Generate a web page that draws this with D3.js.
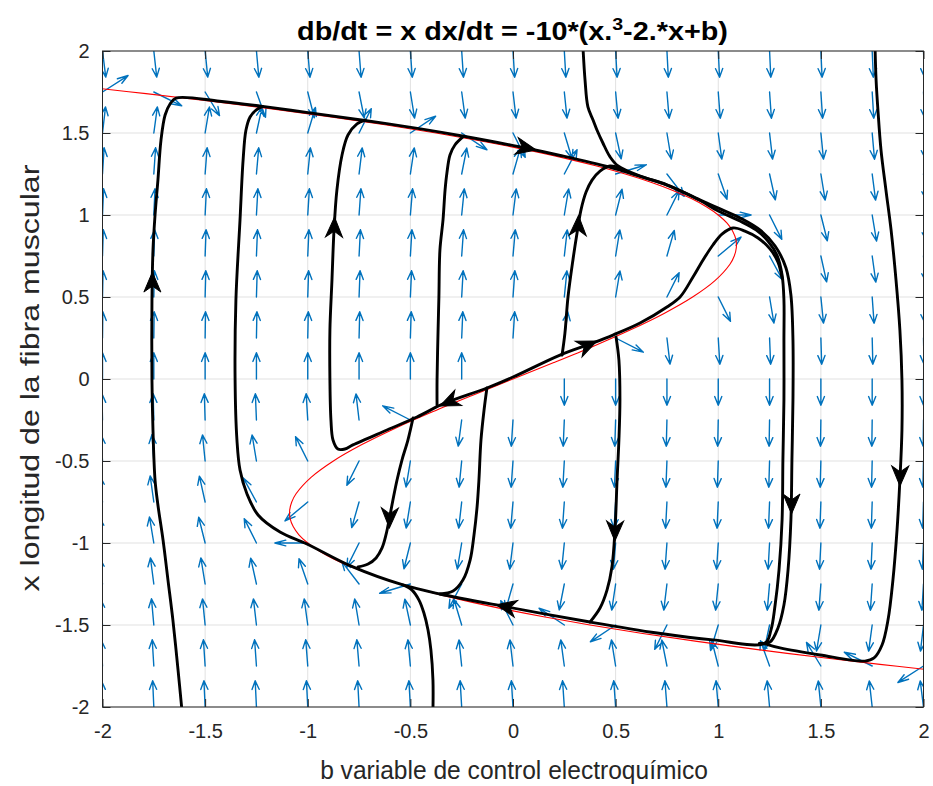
<!DOCTYPE html>
<html><head><meta charset="utf-8">
<script src="https://cdn.jsdelivr.net/npm/d3@7/dist/d3.min.js"></script>
<style>body{margin:0;background:#fff}</style>
</head><body>
<svg id="chart" width="933" height="786"></svg>
<script>
// ---------- DATA ----------
const bGrid = [-2,-1.75,-1.5,-1.25,-1,-0.75,-0.5,-0.25,0,0.25,0.5,0.75,1,1.25,1.5,1.75,2];
const xGrid = [2,1.75,1.5,1.25,1,0.75,0.5,0.25,0,-0.25,-0.5,-0.75,-1,-1.25,-1.5,-1.75,-2];
// db/dt for each row of the grid
const dbdtRow = [2,1.75,1.5,1.25,1,0.75,0.5,0.25,0,-0.25,-0.5,-0.75,-1,-1.25,-1.5,-1.75,-2];
// dx/dt at each grid point (rows = xGrid, columns = bGrid)
const dxdt = [
 [-20,-22.5,-25,-27.5,-30,-32.5,-35,-37.5,-40,-42.5,-45,-47.5,-50,-52.5,-55,-57.5,-60],
 [1.41,-1.09,-3.59,-6.09,-8.59,-11.09,-13.59,-16.09,-18.59,-21.09,-23.59,-26.09,-28.59,-31.09,-33.59,-36.09,-38.59],
 [16.25,13.75,11.25,8.75,6.25,3.75,1.25,-1.25,-3.75,-6.25,-8.75,-11.25,-13.75,-16.25,-18.75,-21.25,-23.75],
 [25.47,22.97,20.47,17.97,15.47,12.97,10.47,7.97,5.47,2.97,0.47,-2.03,-4.53,-7.03,-9.53,-12.03,-14.53],
 [30,27.5,25,22.5,20,17.5,15,12.5,10,7.5,5,2.5,0,-2.5,-5,-7.5,-10],
 [30.78,28.28,25.78,23.28,20.78,18.28,15.78,13.28,10.78,8.28,5.78,3.28,0.78,-1.72,-4.22,-6.72,-9.22],
 [28.75,26.25,23.75,21.25,18.75,16.25,13.75,11.25,8.75,6.25,3.75,1.25,-1.25,-3.75,-6.25,-8.75,-11.25],
 [24.84,22.34,19.84,17.34,14.84,12.34,9.84,7.34,4.84,2.34,-0.16,-2.66,-5.16,-7.66,-10.16,-12.66,-15.16],
 [20,17.5,15,12.5,10,7.5,5,2.5,0,-2.5,-5,-7.5,-10,-12.5,-15,-17.5,-20],
 [15.16,12.66,10.16,7.66,5.16,2.66,0.16,-2.34,-4.84,-7.34,-9.84,-12.34,-14.84,-17.34,-19.84,-22.34,-24.84],
 [11.25,8.75,6.25,3.75,1.25,-1.25,-3.75,-6.25,-8.75,-11.25,-13.75,-16.25,-18.75,-21.25,-23.75,-26.25,-28.75],
 [9.22,6.72,4.22,1.72,-0.78,-3.28,-5.78,-8.28,-10.78,-13.28,-15.78,-18.28,-20.78,-23.28,-25.78,-28.28,-30.78],
 [10,7.5,5,2.5,0,-2.5,-5,-7.5,-10,-12.5,-15,-17.5,-20,-22.5,-25,-27.5,-30],
 [14.53,12.03,9.53,7.03,4.53,2.03,-0.47,-2.97,-5.47,-7.97,-10.47,-12.97,-15.47,-17.97,-20.47,-22.97,-25.47],
 [23.75,21.25,18.75,16.25,13.75,11.25,8.75,6.25,3.75,1.25,-1.25,-3.75,-6.25,-8.75,-11.25,-13.75,-16.25],
 [38.59,36.09,33.59,31.09,28.59,26.09,23.59,21.09,18.59,16.09,13.59,11.09,8.59,6.09,3.59,1.09,-1.41],
 [60,57.5,55,52.5,50,47.5,45,42.5,40,37.5,35,32.5,30,27.5,25,22.5,20]
];

// red curve (nullcline) points: b and x
const nullX = [1.77,1.74,1.70,1.65,1.60,1.55,1.50,1.45,1.40,1.35,1.30,1.25,1.20,1.15,1.10,1.05,1.00,0.95,0.90,0.85,0.80,0.75,0.70,0.60,0.50,0.40,0.30,0.20,0.10,0,
  -0.10,-0.20,-0.30,-0.40,-0.50,-0.60,-0.70,-0.75,-0.80,-0.85,-0.90,-0.95,-1.00,-1.05,-1.10,-1.15,-1.20,-1.25,-1.30,-1.35,-1.40,-1.45,-1.50,-1.55,-1.60,-1.65,-1.70,-1.74,-1.77];
const nullB = [-2.005,-1.788,-1.513,-1.192,-0.896,-0.624,-0.375,-0.149,0.056,0.240,0.403,0.547,0.672,0.779,0.869,0.942,1.000,1.043,1.071,1.086,1.088,1.078,1.057,0.984,0.875,0.736,0.573,0.392,0.199,0,
  -0.199,-0.392,-0.573,-0.736,-0.875,-0.984,-1.057,-1.078,-1.088,-1.086,-1.071,-1.043,-1.000,-0.942,-0.869,-0.779,-0.672,-0.547,-0.403,-0.240,-0.056,0.149,0.375,0.624,0.896,1.192,1.513,1.788,2.005];

// black trajectories: [b, x] points
const trajA = [[-1.613,-2.02],[-1.632,-1.774],[-1.657,-1.470],[-1.681,-1.226],[-1.705,-0.982],[-1.730,-0.768],[-1.744,-0.616],[-1.754,-0.311],[-1.759,-0.006],[-1.759,0.482],[-1.754,0.787],[-1.744,1.0],[-1.730,1.213],[-1.715,1.457],[-1.695,1.610],[-1.671,1.677],[-1.642,1.713],[-1.43,1.694],[-1.22,1.662]];
const trajCycle = [[-1.22,1.662],[-0.99,1.623],[-0.73,1.578],[-0.45,1.525],[-0.24,1.48],[0.03,1.416],[0.23,1.363],[0.47,1.292],[0.62,1.235],[0.75,1.182],[0.91,1.09],[1.0,1.024],[1.106,0.963],[1.184,0.909],[1.242,0.841],[1.286,0.756],[1.311,0.634],[1.320,0.482],[1.320,0.238],[1.320,-0.128],[1.315,-0.494],[1.311,-0.860],[1.296,-1.165],[1.277,-1.378],[1.257,-1.530],[1.228,-1.610],[0.974,-1.591],[0.702,-1.549],[0.375,-1.482],[-0.029,-1.390],[-0.356,-1.311],[-0.536,-1.256],[-0.780,-1.146],[-1.004,-1.006],[-1.135,-0.933],[-1.242,-0.829],[-1.296,-0.701],[-1.330,-0.555],[-1.345,-0.372],[-1.354,-0.006],[-1.350,0.482],[-1.330,0.970],[-1.315,1.335],[-1.301,1.518],[-1.281,1.598],[-1.252,1.640],[-1.22,1.662]];
const trajF1 = [[0.341,2.02],[0.351,1.823],[0.365,1.659],[0.390,1.579],[0.409,1.518],[0.438,1.439],[0.473,1.354],[0.512,1.299],[0.62,1.237],[0.75,1.184],[0.91,1.092],[1.009,1.037],[1.116,0.976],[1.203,0.909],[1.277,0.811],[1.330,0.677],[1.354,0.512],[1.364,0.238],[1.364,-0.128],[1.359,-0.494],[1.354,-0.860],[1.340,-1.165],[1.320,-1.378],[1.291,-1.518],[1.252,-1.604],[1.2,-1.612]];
const trajF2 = [[0.239,0.146],[0.253,0.280],[0.268,0.500],[0.292,0.726],[0.312,0.890],[0.331,1.030],[0.356,1.140],[0.385,1.213],[0.424,1.268],[0.473,1.299],[0.53,1.28]];
const trajD = [[-0.721,1.579],[-0.760,1.555],[-0.804,1.488],[-0.833,1.366],[-0.858,1.152],[-0.872,0.909],[-0.882,0.604],[-0.892,0.299],[-0.892,-0.006],[-0.887,-0.250],[-0.877,-0.372],[-0.853,-0.427],[-0.819,-0.427],[-0.780,-0.402],[-0.614,-0.311],[-0.468,-0.232],[-0.341,-0.152],[-0.127,-0.055],[0,0.012],[0.229,0.146],[0.390,0.220],[0.487,0.268],[0.619,0.341],[0.750,0.439],[0.814,0.500],[0.877,0.622],[0.926,0.726],[0.974,0.817],[1.018,0.884],[1.072,0.921],[1.130,0.902],[1.194,0.860],[1.252,0.793],[1.291,0.713],[1.311,0.616]];
const trajG = [[-0.487,-0.238],[-0.512,-0.372],[-0.541,-0.494],[-0.565,-0.616],[-0.585,-0.738],[-0.599,-0.829],[-0.619,-0.951],[-0.638,-1.030],[-0.667,-1.091],[-0.706,-1.128],[-0.755,-1.146]];
const trajH = [[-0.370,-0.159],[-0.370,-0.006],[-0.365,0.299],[-0.361,0.500],[-0.356,0.787],[-0.341,0.970],[-0.331,1.152],[-0.322,1.256],[-0.307,1.366],[-0.283,1.427],[-0.244,1.476]];
const trajI = [[-0.127,-0.055],[-0.141,-0.189],[-0.156,-0.372],[-0.166,-0.616],[-0.175,-0.780],[-0.190,-0.951],[-0.209,-1.104],[-0.244,-1.226],[-0.292,-1.293],[-0.356,-1.311]];
const trajJ = [[0.502,0.256],[0.516,0.116],[0.521,-0.128],[0.516,-0.372],[0.507,-0.616],[0.497,-0.921],[0.482,-1.146],[0.458,-1.287],[0.424,-1.396],[0.375,-1.482]];
const trajK = [[-0.390,-2.02],[-0.390,-1.835],[-0.400,-1.652],[-0.414,-1.530],[-0.434,-1.427],[-0.458,-1.348],[-0.492,-1.287],[-0.536,-1.256]];
const trajL = [[1.764,2.02],[1.769,1.823],[1.778,1.640],[1.793,1.396],[1.817,1.152],[1.842,0.909],[1.866,0.604],[1.885,0.299],[1.895,-0.006],[1.895,-0.311],[1.885,-0.616],[1.871,-0.921],[1.851,-1.226],[1.827,-1.470],[1.798,-1.622],[1.759,-1.701],[1.715,-1.720],[1.496,-1.683],[1.301,-1.640],[1.228,-1.615]];
const trajectories = [trajCycle, trajA, trajF1, trajF2, trajD, trajG, trajH, trajI, trajJ, trajK, trajL];

// arrowheads on trajectories: position and direction (db, dx)
const arrowB  = [-1.757, 0.06, -0.871, 0.317, -0.307, 0.36, -0.601, 0.497, 1.357, -0.029, 1.886];
const arrowX  = [0.585, 1.41, 0.92, 0.93, -0.137, 0.205, -0.841, -0.921, -0.756, -1.39, -0.585];
const arrowDb = [0, 1, 0.02, 0.03, -1, 1, -0.02, -0.01, 0, -1, -0.01];
const arrowDx = [1, -0.26, 1, 1, -0.55, 0.55, -1, -1, -1, 0.26, -1];

const tickVals = [-2,-1.5,-1,-0.5,0,0.5,1,1.5,2];
const tickLabels = ["-2","-1.5","-1","-0.5","0","0.5","1","1.5","2"];

// ---------- CHART ----------
const svg = d3.select("#chart");
const L = 102.5, R = 923.5, T = 51, B = 707;
const xS = d3.scaleLinear().domain([-2,2]).range([L,R]);
const yS = d3.scaleLinear().domain([-2,2]).range([B,T]);
const font = "'Liberation Sans', Arial, Helvetica, sans-serif";
const axisCol = "#262626";

svg.append("rect").attr("width",933).attr("height",786).attr("fill","#fff");
svg.append("defs").append("clipPath").attr("id","clip")
  .append("rect").attr("x",L).attr("y",T).attr("width",R-L).attr("height",B-T);

// grid
const grid = svg.append("g");
grid.selectAll("line.gx").data(tickVals).join("line")
  .attr("x1",d=>xS(d)).attr("x2",d=>xS(d)).attr("y1",T).attr("y2",B)
  .attr("stroke","#e1e1e1").attr("stroke-width",1);
grid.selectAll("line.gy").data(tickVals).join("line")
  .attr("y1",d=>yS(d)).attr("y2",d=>yS(d)).attr("x1",L).attr("x2",R)
  .attr("stroke","#e1e1e1").attr("stroke-width",1);

const plot = svg.append("g").attr("clip-path","url(#clip)");

// quiver
const qLen = 0.16, qa = 0.33, qb = 0.33;
let qd = "";
xGrid.forEach((xv,i)=>{
  bGrid.forEach((bv,j)=>{
    const u0 = dbdtRow[i], v0 = dxdt[i][j];
    const m = Math.hypot(u0,v0);
    if (m === 0) return;
    const u = u0/m*qLen, v = v0/m*qLen;
    const tb = bv+u, tx = xv+v;
    qd += `M${xS(bv)},${yS(xv)}L${xS(tb)},${yS(tx)}`;
    qd += `M${xS(tb-qa*(u+qb*v))},${yS(tx-qa*(v-qb*u))}L${xS(tb)},${yS(tx)}L${xS(tb-qa*(u-qb*v))},${yS(tx-qa*(v+qb*u))}`;
  });
});
plot.append("path").attr("d",qd).attr("fill","none").attr("stroke","#0072BD")
  .attr("stroke-width",1.4).attr("stroke-linejoin","round").attr("stroke-linecap","round");

// red nullcline
const nullPts = nullX.map((x,i)=>[nullB[i],x]);
const lineGen = d3.line().x(d=>xS(d[0])).y(d=>yS(d[1])).curve(d3.curveCatmullRom.alpha(0.5));
plot.append("path").attr("d",lineGen(nullPts)).attr("fill","none")
  .attr("stroke","#ff0000").attr("stroke-width",1.1);

// trajectories
plot.selectAll("path.traj").data(trajectories).join("path").attr("class","traj")
  .attr("d",d=>lineGen(d)).attr("fill","none").attr("stroke","#000")
  .attr("stroke-width",2.9).attr("stroke-linejoin","round").attr("stroke-linecap","round");

// arrowheads
const arrows = arrowB.map((b,i)=>({b, x:arrowX[i], db:arrowDb[i], dx:arrowDx[i]}));
plot.selectAll("path.ah").data(arrows).join("path").attr("class","ah")
  .attr("d","M11,0L-9,-8.5L-3,0L-9,8.5Z")
  .attr("transform",d=>{
    const ang = Math.atan2(-d.dx*(yS(0)-yS(1)), d.db*(xS(1)-xS(0)))*180/Math.PI;
    return `translate(${xS(d.b)},${yS(d.x)}) rotate(${ang})`;
  })
  .attr("fill","#000").attr("stroke","#000").attr("stroke-width",1).attr("stroke-linejoin","miter");

// axes ticks
const fmt = d=>tickLabels[tickVals.indexOf(d)];
const axB = svg.append("g").attr("transform",`translate(0,${B})`)
  .call(d3.axisBottom(xS).tickValues(tickVals).tickFormat(fmt).tickSizeInner(-8).tickSizeOuter(0).tickPadding(17));
const axL = svg.append("g").attr("transform",`translate(${L},0)`)
  .call(d3.axisLeft(yS).tickValues(tickVals).tickFormat(fmt).tickSizeInner(-8).tickSizeOuter(0).tickPadding(13));
const axT = svg.append("g").attr("transform",`translate(0,${T})`)
  .call(d3.axisTop(xS).tickValues(tickVals).tickFormat("").tickSizeInner(-8).tickSizeOuter(0));
const axR = svg.append("g").attr("transform",`translate(${R},0)`)
  .call(d3.axisRight(yS).tickValues(tickVals).tickFormat("").tickSizeInner(-8).tickSizeOuter(0));
[axB,axL,axT,axR].forEach(a=>{
  a.select(".domain").remove();
  a.selectAll("line").attr("stroke",axisCol);
  a.selectAll("text").attr("fill",axisCol).attr("font-family",font).attr("font-size",20);
});
svg.append("rect").attr("x",L).attr("y",T).attr("width",R-L).attr("height",B-T)
  .attr("fill","none").attr("stroke",axisCol).attr("stroke-width",1);

// labels, scaled to the reference text widths
function fitText(g, target){
  const w = g.node().getBBox().width;
  return target / w;
}
const xl = svg.append("g");
const xlt = xl.append("text").attr("text-anchor","middle").attr("font-family",font)
  .attr("font-size",26).attr("fill",axisCol).text("b variable de control electroquímico");
xl.attr("transform",`translate(514,779) scale(${fitText(xlt,388)},1)`);

const yl = svg.append("g");
const ylt = yl.append("text").attr("text-anchor","middle").attr("font-family",font)
  .attr("font-size",25).attr("fill",axisCol).text("x longitud de la fibra muscular");
yl.attr("transform",`translate(39,378) rotate(-90) scale(${fitText(ylt,427)},1)`);

const tl = svg.append("g");
const tt = tl.append("text").attr("text-anchor","middle").attr("font-family",font)
  .attr("font-size",25).attr("font-weight","bold").attr("fill","#000");
tt.append("tspan").text("db/dt = x dx/dt = -10*(x.");
tt.append("tspan").attr("dy",-10).attr("font-size",17).text("3");
tt.append("tspan").attr("dy",10).text("-2.*x+b)");
tl.attr("transform",`translate(512.5,40) scale(${fitText(tt,431)},1)`);
</script>
</body></html>
